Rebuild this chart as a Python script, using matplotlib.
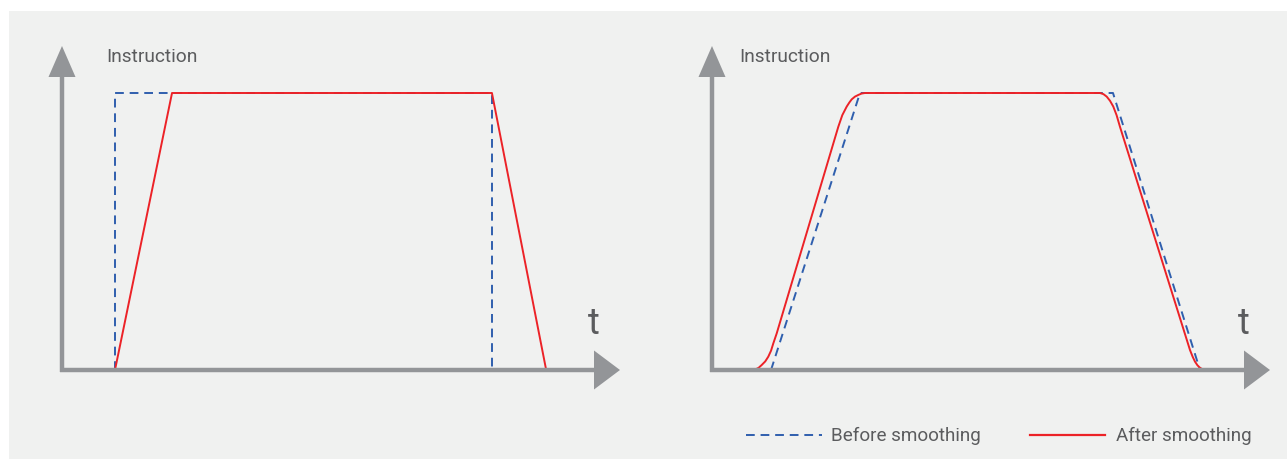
import matplotlib
matplotlib.use("Agg")
import matplotlib.pyplot as plt
from matplotlib.patches import Polygon, Rectangle
from matplotlib.lines import Line2D

# ---------------- data ----------------
# left panel: step instruction vs linear ramp
left_before_t = [1.045, 1.045, 8.48, 8.48]
left_before_y = [0.0, 1.0, 1.0, 0.0]
left_after_t = [1.045, 2.17, 8.48, 9.55]
left_after_y = [0.0, 1.0, 1.0, 0.0]

# right panel: ramp instruction vs smoothed ramp
right_before_t = [1.164, 2.919, 7.909, 9.625]
right_before_y = [0.0, 1.0, 1.0, 0.0]
right_after_t = [0.834, 0.92, 0.98, 1.05, 1.11, 1.165, 1.209, 1.276, 2.491, 2.57, 2.657, 2.71,
                 2.755, 2.82, 2.886, 2.95, 3.018,
                 7.653, 7.72, 7.785, 7.85, 7.915, 7.98, 8.047, 9.428, 9.48, 9.527, 9.575, 9.625,
                 9.68, 9.724]
right_after_y = [0.0, 0.008, 0.018, 0.031, 0.048, 0.07, 0.096, 0.132, 0.878, 0.92, 0.951, 0.966,
                 0.977, 0.987, 0.993, 0.998, 1.0,
                 1.0, 0.996, 0.987, 0.972, 0.951, 0.92, 0.878, 0.072, 0.048, 0.030, 0.017, 0.008,
                 0.002, 0.0]

y_label = "Instruction"
x_label = "t"
legend_labels = ["Before smoothing", "After smoothing"]

# ---------------- style ----------------
W, H = 1287, 459
BG = "#f0f1f0"
AXC = "#939598"
TXT = "#5b5c5e"
BLUE = "#2f5fae"
RED = "#ec2227"

fig = plt.figure(figsize=(W / 100, H / 100), dpi=100)
fig.patch.set_facecolor("white")

def fx(px):
    return px / W

def fy(py):
    return 1 - py / H

fig.add_artist(Rectangle((fx(9), fy(458.5)), fx(1287) - fx(9), fy(11) - fy(458.5),
                         transform=fig.transFigure, facecolor=BG, edgecolor="none", zorder=0))

def make_panel(ox, label_dx, before_t, before_y, after_t, after_y):
    oy = 370
    tip_x = ox + 558
    tip_y = 46
    ax = fig.add_axes([fx(ox), fy(oy), fx(tip_x) - fx(ox), fy(tip_y) - fy(oy)])
    ax.set_xlim(0, 558 / 50.7)
    ax.set_ylim(0, (oy - tip_y) / 277)
    ax.axis("off")
    ax.patch.set_visible(False)
    # axis lines
    fig.add_artist(Line2D([fx(ox), fx(ox)], [fy(oy + 2), fy(tip_y + 25)], transform=fig.transFigure,
                          color=AXC, lw=3.2, solid_capstyle="butt", zorder=2))
    fig.add_artist(Line2D([fx(ox - 2), fx(tip_x - 20)], [fy(oy), fy(oy)], transform=fig.transFigure,
                          color=AXC, lw=3.2, solid_capstyle="butt", zorder=2))
    # arrow heads
    fig.add_artist(Polygon([(fx(ox), fy(tip_y)), (fx(ox - 13.5), fy(tip_y + 31)), (fx(ox + 13.5), fy(tip_y + 31))],
                           closed=True, transform=fig.transFigure, facecolor=AXC, edgecolor="none", zorder=2))
    fig.add_artist(Polygon([(fx(tip_x), fy(oy)), (fx(tip_x - 26), fy(oy - 19.5)), (fx(tip_x - 26), fy(oy + 19.5))],
                           closed=True, transform=fig.transFigure, facecolor=AXC, edgecolor="none", zorder=2))
    ax.plot(before_t, before_y, color=BLUE, lw=1.4, dashes=(4.5, 3), zorder=3, clip_on=False)
    ax.plot(after_t, after_y, color=RED, lw=1.4, zorder=4, clip_on=False)
    fig.text(fx(ox + label_dx), fy(61.5), y_label, fontsize=13.8, color=TXT, family="Roboto",
             ha="left", va="baseline")
    fig.text(fx(tip_x - 32), fy(334), x_label, fontsize=26, color=TXT, family="Roboto",
             ha="left", va="baseline")
    return ax

ax1 = make_panel(62, 44, left_before_t, left_before_y, left_after_t, left_after_y)
ax2 = make_panel(712, 27, right_before_t, right_before_y, right_after_t, right_after_y)

# legend
ly = 435
fig.add_artist(Line2D([fx(746), fx(822)], [fy(ly), fy(ly)], transform=fig.transFigure,
                      color=BLUE, lw=1.4, dashes=(4.5, 3)))
fig.text(fx(831), fy(441), legend_labels[0], fontsize=13.6, color=TXT, family="Roboto",
         ha="left", va="baseline")
fig.add_artist(Line2D([fx(1030), fx(1105)], [fy(ly), fy(ly)], transform=fig.transFigure,
                      color=RED, lw=1.6))
fig.text(fx(1116), fy(441), legend_labels[1], fontsize=13.6, color=TXT, family="Roboto",
         ha="left", va="baseline")

fig.savefig("out.png", dpi=100, facecolor=fig.get_facecolor())
